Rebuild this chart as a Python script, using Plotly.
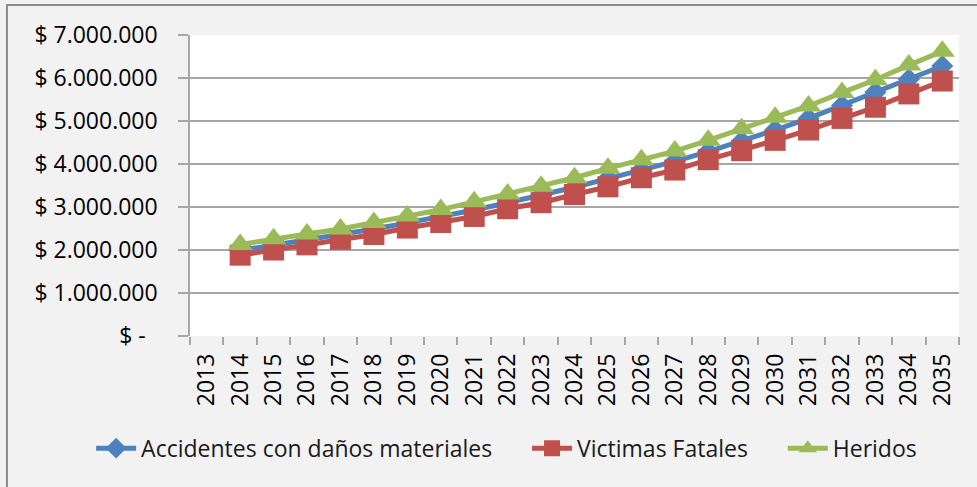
import plotly.graph_objects as go

# Category axis (years) and tick labels
years = ["2013", "2014", "2015", "2016", "2017", "2018", "2019", "2020", "2021",
         "2022", "2023", "2024", "2025", "2026", "2027", "2028", "2029", "2030",
         "2031", "2032", "2033", "2034", "2035"]
data_years = ["2014", "2015", "2016", "2017", "2018", "2019", "2020", "2021",
              "2022", "2023", "2024", "2025", "2026", "2027", "2028", "2029",
              "2030", "2031", "2032", "2033", "2034", "2035"]

# Series values (pesos)
accidentes = [1990000, 2110000, 2230000, 2360000, 2490000, 2630000, 2770000,
              2930000, 3100000, 3270000, 3460000, 3660000, 3860000, 4060000,
              4290000, 4530000, 4790000, 5060000, 5360000, 5670000, 5970000,
              6280000]
fatales = [1880000, 2000000, 2120000, 2250000, 2360000, 2510000, 2640000,
           2780000, 2960000, 3100000, 3290000, 3470000, 3680000, 3860000,
           4100000, 4310000, 4550000, 4790000, 5060000, 5320000, 5630000,
           5930000]
heridos = [2130000, 2260000, 2370000, 2490000, 2640000, 2790000, 2940000,
           3120000, 3300000, 3480000, 3680000, 3900000, 4100000, 4300000,
           4550000, 4820000, 5090000, 5350000, 5660000, 5960000, 6300000,
           6620000]

y_tickvals = [0, 1000000, 2000000, 3000000, 4000000, 5000000, 6000000, 7000000]
y_ticktext = ["$ -\u00a0\u00a0", "$ 1.000.000", "$ 2.000.000", "$ 3.000.000",
              "$ 4.000.000", "$ 5.000.000", "$ 6.000.000", "$ 7.000.000"]

FONT = "Open Sans, Noto Sans, sans-serif"
GRID = "#a6a6a6"
PAD = "\u00a0" * 5  # extra room after each legend label

fig = go.Figure()
fig.add_trace(go.Scatter(
    x=data_years, y=accidentes, name="Accidentes con daños materiales" + PAD,
    mode="lines+markers",
    line=dict(color="#4F81BD", width=5),
    marker=dict(symbol="diamond", size=17, color="#4F81BD", line=dict(width=0)),
))
fig.add_trace(go.Scatter(
    x=data_years, y=fatales, name="Victimas Fatales" + PAD,
    mode="lines+markers",
    line=dict(color="#C0504D", width=5),
    marker=dict(symbol="square", size=21, color="#C0504D", line=dict(width=0)),
))
fig.add_trace(go.Scatter(
    x=data_years, y=heridos, name="Heridos",
    mode="lines+markers",
    line=dict(color="#9BBB59", width=5),
    marker=dict(symbol="triangle-up", size=22, color="#9BBB59",
                line=dict(width=0)),
))

fig.update_layout(
    width=977, height=487,
    margin=dict(l=190, r=18, t=35, b=151),
    paper_bgcolor="#f2f2f2",
    plot_bgcolor="#ffffff",
    font=dict(family=FONT, size=23, color="#000000"),
    showlegend=True,
    legend=dict(
        orientation="h", x=-0.1286, xanchor="left", y=-0.373, yanchor="middle",
        font=dict(family=FONT, size=23, color="#1a1a1a"),
        bgcolor="rgba(0,0,0,0)", itemsizing="trace", itemwidth=40,
    ),
    shapes=[dict(
        type="rect", xref="paper", yref="paper",
        x0=-0.238, x1=1.2, y0=-0.8, y1=1.1,
        line=dict(color="#8c8c8c", width=2), fillcolor="rgba(0,0,0,0)",
        layer="below",
    )],
)

fig.update_xaxes(
    type="category", categoryorder="array", categoryarray=years,
    range=[-0.5, len(years) - 0.5],
    tickson="boundaries", ticks="outside", ticklen=8, tickcolor=GRID,
    tickwidth=1.5, tickangle=-90,
    tickfont=dict(family=FONT, size=23, color="#000000"),
    showgrid=False, showline=False, zeroline=False,
    ticklabelstandoff=12,
)
fig.update_yaxes(
    range=[0, 7000000], tickvals=y_tickvals, ticktext=y_ticktext,
    ticks="outside", ticklen=10, tickcolor=GRID, tickwidth=1.5,
    tickfont=dict(family=FONT, size=23, color="#000000"),
    showgrid=True, gridcolor=GRID, gridwidth=1.5,
    showline=True, linecolor=GRID, linewidth=1.5,
    zeroline=False, ticklabelstandoff=16,
)

fig.write_html("out.html")
